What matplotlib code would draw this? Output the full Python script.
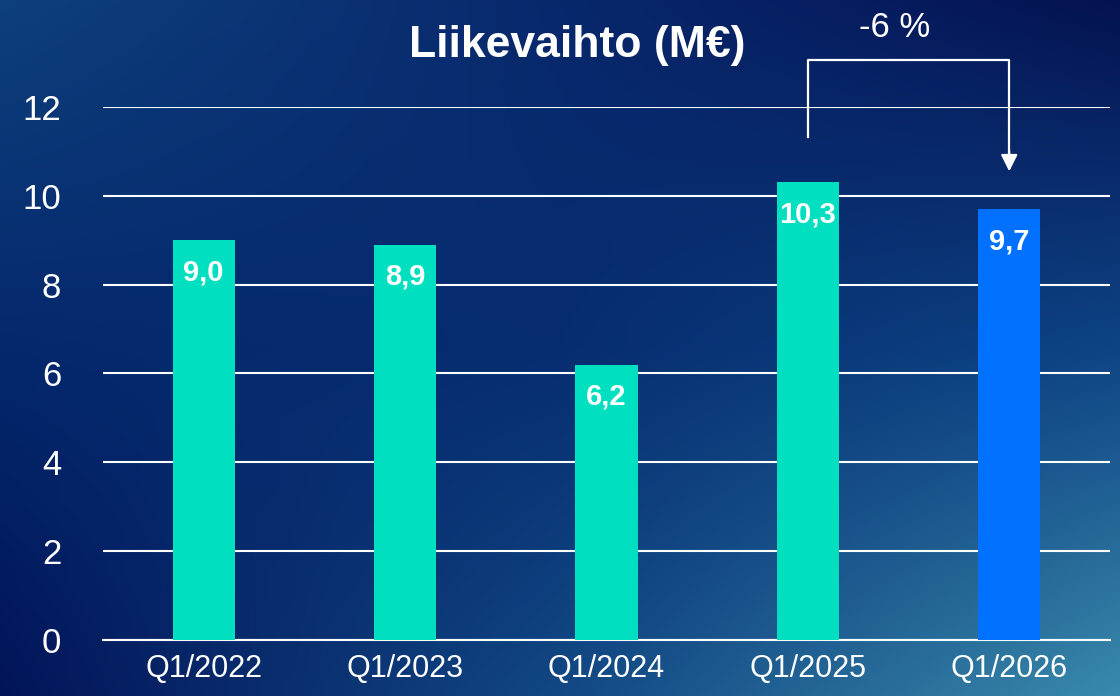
import numpy as np
import matplotlib.pyplot as plt

plt.rcParams['font.family'] = ['Liberation Sans', 'DejaVu Sans']

quarters = ['Q1/2022', 'Q1/2023', 'Q1/2024', 'Q1/2025', 'Q1/2026']
revenue = [9.0, 8.9, 6.2, 10.3, 9.7]
value_labels = ['9,0', '8,9', '6,2', '10,3', '9,7']
yticks = [0, 2, 4, 6, 8, 10, 12]
change_label = '-6 %'

teal = '#00E0C0'
blue = '#0070FF'
bar_colors = [teal, teal, teal, teal, blue]

fig = plt.figure(figsize=(11.2, 6.96), dpi=100)

# background gradient from a 3x3 grid of anchor colours (top row first)
anchors = np.array([
    [[14, 64, 125], [8, 40, 108], [4, 18, 82]],
    [[4, 40, 108], [6, 45, 112], [14, 68, 132]],
    [[2, 20, 88], [18, 72, 132], [58, 138, 172]],
]) / 255
h, w = 348, 560
gx = np.linspace(0, 2, w)
gy = np.linspace(0, 2, h)
rows = np.stack([[np.interp(gx, [0, 1, 2], anchors[r, :, c]) for c in range(3)]
                 for r in range(3)])  # (3 rows, 3 ch, w)
img = np.stack([[np.interp(gy, [0, 1, 2], rows[:, c, i]) for i in range(w)]
                for c in range(3)])  # (3 ch, w, h)
img = img.transpose(2, 1, 0)
bg = fig.add_axes([0, 0, 1, 1])
bg.imshow(img, aspect='auto', extent=[0, 1, 0, 1], origin='upper')
bg.axis('off')

ax = fig.add_axes([0.092, 0.0805, 0.899, 0.7658])
ax.set_facecolor('none')
x = np.arange(len(quarters))
ax.bar(x, revenue, width=0.31, color=bar_colors, zorder=3)
for xi, v, lab in zip(x, revenue, value_labels):
    ax.annotate(lab, (xi, v), xytext=(0, -13), textcoords='offset points',
                ha='center', va='top', color='white', fontsize=21,
                fontweight='bold', zorder=4)

ax.set_xlim(-0.5, 4.5)
ax.set_ylim(0, 12)
ax.set_yticks(yticks)
ax.set_xticks(x)
ax.set_xticklabels(quarters)
ax.yaxis.grid(True, color='white', linewidth=1.5, zorder=1)
ax.set_axisbelow(True)
ax.tick_params(axis='both', length=0, colors='white')
ax.tick_params(axis='y', labelsize=25, pad=30)
ax.tick_params(axis='x', labelsize=22, pad=10)
for side in ['top', 'right', 'left']:
    ax.spines[side].set_visible(False)
ax.spines['bottom'].set_color('white')
ax.spines['bottom'].set_linewidth(1.5)
ax.spines['bottom'].set_zorder(2)

# change bracket between Q1/2025 and Q1/2026
ax.plot([3, 3, 4, 4], [11.32, 13.06, 13.06, 10.95], color='white',
        linewidth=1.6, clip_on=False, zorder=5)
ax.annotate('', xy=(4, 10.55), xytext=(4, 11.0),
            arrowprops=dict(arrowstyle='-|>', color='white', lw=1.6,
                            mutation_scale=25, shrinkA=0, shrinkB=0),
            annotation_clip=False)
ax.text(3.43, 13.58, change_label, ha='center', va='baseline', color='white',
        fontsize=25)

fig.text(0.515, 0.935, 'Liikevaihto (M€)', ha='center', va='center',
         color='white', fontsize=32, fontweight='bold')

fig.savefig('out.png', dpi=100)
